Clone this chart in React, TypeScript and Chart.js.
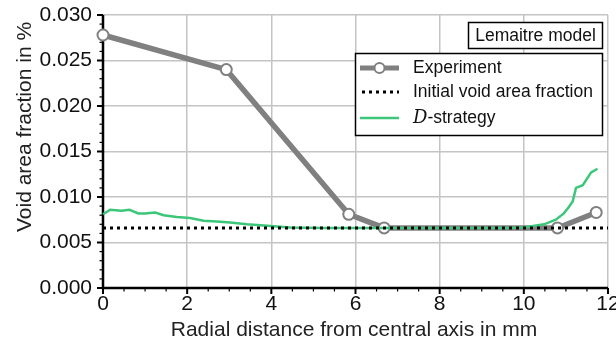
import React, { useEffect, useRef } from "react";
import { Chart, registerables } from "chart.js";

Chart.register(...registerables);

// Measured void area fraction along the radius
const expRadius = [0, 2.93, 5.84, 6.68, 10.8, 11.72];
const expVoid = [0.0278, 0.0240, 0.0081, 0.0066, 0.0066, 0.0083];

// Initial void area fraction (constant reference level)
const initRadius = [0, 12];
const initVoid = [0.0066, 0.0066];

// Simulated void area fraction, D-strategy
const simRadius = [
  0, 0.17, 0.44, 0.63, 0.84, 1.0, 1.24, 1.44, 1.75, 2.07, 2.39, 2.7, 3.02, 3.42,
  3.98, 4.45, 5.24, 6.5, 8.0, 9.5, 10.0, 10.48, 10.76, 10.95, 11.07, 11.16, 11.24,
  11.4, 11.6, 11.75,
];
const simVoid = [
  0.0081, 0.0086, 0.0085, 0.0086, 0.0082, 0.0082, 0.0083, 0.0080, 0.0078, 0.0077,
  0.0074, 0.0073, 0.0072, 0.0070, 0.0068, 0.00665, 0.0066, 0.0066, 0.0066, 0.0066,
  0.00665, 0.0070, 0.0075, 0.0082, 0.0089, 0.0095, 0.0110, 0.0113, 0.0127, 0.0131,
];

const xTickLabels = ["0", "2", "4", "6", "8", "10", "12"];
const yTickLabels = ["0.000", "0.005", "0.010", "0.015", "0.020", "0.025", "0.030"];

const legendLabels = ["Experiment", "Initial void area fraction", "-strategy"];
const boxLabel = "Lemaitre model";
const xTitle = "Radial distance from central axis in mm";
const yTitle = "Void area fraction in %";

const SANS = "'Liberation Sans', Arial, sans-serif";
const GRAY = "#808080";
const GREEN = "#3cc67a";

const toPoints = (xs: number[], ys: number[]) => xs.map((x, i) => ({ x, y: ys[i] }));

const decorations = {
  id: "decorations",
  beforeDatasetsDraw(chart: any) {
    const { ctx, chartArea: a, scales } = chart;
    const xs = scales.x;
    const ys = scales.y;
    ctx.save();
    ctx.strokeStyle = "#000";
    // major and minor ticks
    for (let v = 0; v <= 12.001; v += 0.5) {
      const px = xs.getPixelForValue(v);
      const major = Math.abs(v / 2 - Math.round(v / 2)) < 1e-6;
      ctx.beginPath();
      ctx.moveTo(px, a.bottom);
      ctx.lineTo(px, a.bottom + (major ? 6 : 3.5));
      ctx.lineWidth = major ? 2 : 1.2;
      ctx.stroke();
    }
    for (let k = 0; k <= 30; k++) {
      const py = ys.getPixelForValue(k * 0.001);
      const major = k % 5 === 0;
      ctx.beginPath();
      ctx.moveTo(a.left, py);
      ctx.lineTo(a.left - (major ? 6 : 3.5), py);
      ctx.lineWidth = major ? 2 : 1.2;
      ctx.stroke();
    }
    // axis spines
    ctx.lineWidth = 2.5;
    ctx.beginPath();
    ctx.moveTo(a.left, a.top);
    ctx.lineTo(a.left, a.bottom);
    ctx.lineTo(a.right, a.bottom);
    ctx.stroke();
    ctx.restore();
  },
  afterDraw(chart: any) {
    const { ctx } = chart;
    ctx.save();
    // axis titles
    ctx.fillStyle = "#222";
    ctx.font = `21px ${SANS}`;
    ctx.textAlign = "center";
    ctx.textBaseline = "middle";
    ctx.fillText(xTitle, 354, 330);
    ctx.save();
    ctx.translate(25, 127);
    ctx.rotate(-Math.PI / 2);
    ctx.fillText(yTitle, 0, 0);
    ctx.restore();

    // model label box
    ctx.fillStyle = "#fff";
    ctx.fillRect(468.5, 22.5, 134, 26);
    ctx.strokeStyle = "#000";
    ctx.lineWidth = 1.5;
    ctx.strokeRect(468.5, 22.5, 134, 26);
    ctx.fillStyle = "#111";
    ctx.font = `17.5px ${SANS}`;
    ctx.fillText(boxLabel, 535.5, 36);

    // legend
    ctx.fillStyle = "#fff";
    ctx.fillRect(355.5, 53.5, 247, 82);
    ctx.strokeRect(355.5, 53.5, 247, 82);
    const x0 = 360;
    const x1 = 399;
    const rows = [68, 92, 118];
    // experiment
    ctx.strokeStyle = GRAY;
    ctx.lineWidth = 5;
    ctx.beginPath();
    ctx.moveTo(x0, rows[0]);
    ctx.lineTo(x1, rows[0]);
    ctx.stroke();
    ctx.fillStyle = "#fff";
    ctx.lineWidth = 2;
    ctx.beginPath();
    ctx.arc((x0 + x1) / 2, rows[0], 5, 0, Math.PI * 2);
    ctx.fill();
    ctx.stroke();
    // initial
    ctx.strokeStyle = "#000";
    ctx.lineWidth = 3;
    ctx.setLineDash([3, 4]);
    ctx.beginPath();
    ctx.moveTo(x0 + 2, rows[1]);
    ctx.lineTo(x1, rows[1]);
    ctx.stroke();
    ctx.setLineDash([]);
    // D-strategy
    ctx.strokeStyle = GREEN;
    ctx.lineWidth = 2.5;
    ctx.beginPath();
    ctx.moveTo(x0, rows[2]);
    ctx.lineTo(x1, rows[2]);
    ctx.stroke();

    ctx.fillStyle = "#111";
    ctx.textAlign = "left";
    ctx.font = `17.5px ${SANS}`;
    ctx.fillText(legendLabels[0], 413, rows[0]);
    ctx.fillText(legendLabels[1], 413, rows[1]);
    ctx.font = `italic 18px 'DejaVu Serif', 'Liberation Serif', serif`;
    ctx.fillText("D", 413, rows[2]);
    const dw = ctx.measureText("D").width;
    ctx.font = `17.5px ${SANS}`;
    ctx.fillText(legendLabels[2], 413 + dw, rows[2]);
    ctx.restore();
  },
};

export default function App() {
  const canvasRef = useRef<HTMLCanvasElement | null>(null);

  useEffect(() => {
    document.body.style.margin = "0";
    const canvas = canvasRef.current;
    if (!canvas) return;
    const chart = new Chart(canvas, {
      type: "line",
      data: {
        datasets: [
          {
            label: legendLabels[1],
            data: toPoints(initRadius, initVoid),
            borderColor: "#000",
            borderWidth: 3,
            borderDash: [3, 4],
            pointRadius: 0,
            clip: false,
          },
          {
            label: "D-strategy",
            data: toPoints(simRadius, simVoid),
            borderColor: GREEN,
            borderWidth: 2.5,
            pointRadius: 0,
            clip: false,
          },
          {
            label: legendLabels[0],
            data: toPoints(expRadius, expVoid),
            borderColor: GRAY,
            borderWidth: 5.5,
            pointRadius: 5.5,
            pointBorderWidth: 2,
            pointBorderColor: GRAY,
            pointBackgroundColor: "#fff",
            clip: false,
          },
        ],
      },
      options: {
        animation: false,
        responsive: false,
        events: [],
        layout: { padding: { top: 15, right: 8, left: 0, bottom: 0 } },
        plugins: { legend: { display: false }, tooltip: { enabled: false } },
        scales: {
          x: {
            type: "linear",
            min: 0,
            max: 12,
            ticks: {
              stepSize: 2,
              padding: 4,
              color: "#111",
              font: { family: SANS, size: 21 },
              callback: (v: any) => xTickLabels[Math.round(Number(v) / 2)] ?? "",
            },
            grid: { color: "#c4c4c4", lineWidth: 1.5, drawTicks: false },
            border: { display: false },
            afterFit: (s: any) => {
              s.height = 55;
              s.paddingLeft = 0;
              s.paddingRight = 0;
            },
          },
          y: {
            type: "linear",
            min: 0,
            max: 0.03,
            ticks: {
              stepSize: 0.005,
              padding: 11,
              color: "#111",
              font: { family: SANS, size: 21 },
              callback: (v: any) => yTickLabels[Math.round(Number(v) / 0.005)] ?? "",
            },
            grid: { color: "#c4c4c4", lineWidth: 1.5, drawTicks: false },
            border: { display: false },
            afterFit: (s: any) => {
              s.width = 103;
              s.paddingTop = 0;
              s.paddingBottom = 0;
            },
          },
        },
      },
      plugins: [decorations],
    });
    return () => chart.destroy();
  }, []);

  return <canvas ref={canvasRef} width={616} height={343} style={{ display: "block" }} />;
}
